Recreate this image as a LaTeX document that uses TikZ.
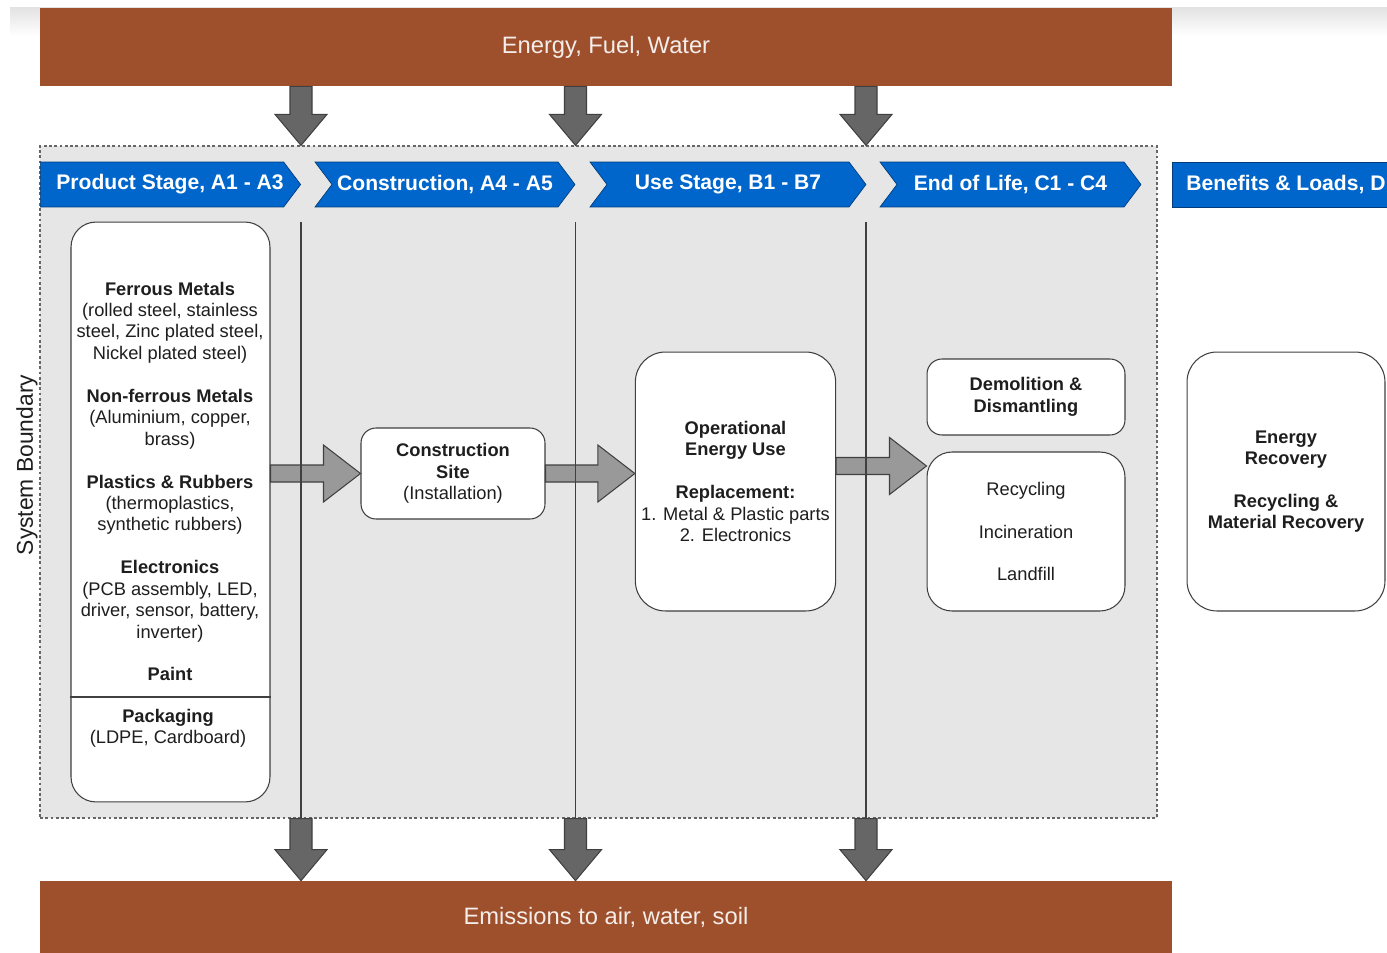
\documentclass[tikz,border=0pt]{standalone}
\usepackage{fontspec}
\setmainfont{Liberation Sans}
\usetikzlibrary{shapes.symbols, calc}

\definecolor{barbrown}{HTML}{9E502D}
\definecolor{stageblue}{HTML}{0066CC}
\definecolor{boundfill}{HTML}{E6E6E6}
\definecolor{fatgray}{HTML}{999999}
\definecolor{dropgray}{HTML}{666666}
\definecolor{linegray}{HTML}{404040}
\definecolor{txtdark}{HTML}{1E1E1E}

\tikzstyle{bar} = [rectangle, fill=barbrown, text=white!90!barbrown, minimum width=22.64cm, font=\fontsize{13.5}{16}\selectfont]
\tikzstyle{stage} = [signal, signal to=east, signal pointer angle=106, fill=stageblue, draw=stageblue!60!black, text=white, minimum height=0.9cm, inner sep=0pt, font=\fontsize{12}{14}\selectfont\bfseries]
\tikzstyle{box} = [rectangle, draw=linegray, fill=white, line width=0.6pt, align=center, text=txtdark, font=\fontsize{10.4}{12.2}\selectfont]
\tikzstyle{boxtext} = [align=center, text=txtdark, font=\fontsize{10.4}{12.2}\selectfont]
\tikzstyle{divider} = [linegray, line width=0.6pt]

% horizontal fat arrow: tail point, tip point
\newcommand{\fatarrow}[2]{%
  \draw[linegray, fill=fatgray, line width=0.6pt] ($(#1)+(0,-8.5)$) -- ($(#2)+(-37,-8.5)$) -- ($(#2)+(-37,-28.5)$) -- (#2)
    -- ($(#2)+(-37,28.5)$) -- ($(#2)+(-37,8.5)$) -- ($(#1)+(0,8.5)$) -- cycle;}
% vertical down arrow: top point, tip point
\newcommand{\droparrow}[2]{%
  \draw[linegray, fill=dropgray, line width=0.6pt] ($(#1)+(-11,0)$) -- ($(#2)+(-11,-31)$) -- ($(#2)+(-26,-31)$) -- (#2)
    -- ($(#2)+(26,-31)$) -- ($(#2)+(11,-31)$) -- ($(#1)+(11,0)$) -- cycle;}

\begin{document}
\begin{tikzpicture}[x=0.02cm, y=-0.02cm]
    \useasboundingbox (0,0) rectangle (1387,953);
    \shade[top color=gray!22, bottom color=white] (10,8) rectangle (1387,36);

    % inputs and outputs
    \node (topbar) [bar, minimum height=1.56cm] at (606,47) {\raisebox{-1.2pt}{Energy, Fuel, Water}};
    \node (botbar) [bar, minimum height=1.44cm] at (606,917) {\raisebox{-2pt}{Emissions to air, water, soil}};

    % system boundary
    \node (sysb) [rectangle, fill=boundfill, draw=gray!80!black, line width=0.8pt, dash pattern=on 1.6pt off 1.4pt, minimum width=22.34cm, minimum height=13.44cm] at (598.5,482) {};
    \node (sysname) [rotate=90, text=txtdark, font=\fontsize{13}{15}\selectfont] at (27,465) {System Boundary};

    % stages
    \node (prod) [stage, minimum width=5.2cm] at (162,184.5) {\hspace*{0.32cm}Product Stage, A1 - A3};
    \node (cons) [stage, signal from=west, minimum width=5.2cm] at (445,184.5) {Construction, A4 - A5};
    \node (use) [stage, signal from=west, minimum width=5.52cm] at (728,184.5) {Use Stage, B1 - B7};
    \node (eol) [stage, signal from=west, minimum width=5.22cm] at (1010.5,184.5) {End of Life, C1 - C4};
    \node (ben) [rectangle, fill=stageblue, draw=stageblue!60!black, text=white, minimum height=0.9cm, inner xsep=0.28cm, anchor=west, font=\fontsize{12}{14}\selectfont\bfseries] at (1172,184.5) {Benefits \& Loads, D};

    % boxes
    \node (mat) [box, rounded corners=0.5cm, minimum width=3.98cm, minimum height=11.6cm] at (170.5,512) {};
    \node (mattxt) [boxtext] at (170,481.5) {\textbf{Ferrous Metals}\\(rolled steel, stainless\\steel, Zinc plated steel,\\Nickel plated steel)\\[12.2pt]
        \textbf{Non-ferrous Metals}\\(Aluminium, copper,\\brass)\\[12.2pt]
        \textbf{Plastics \& Rubbers}\\(thermoplastics,\\synthetic rubbers)\\[12.2pt]
        \textbf{Electronics}\\(PCB assembly, LED,\\driver, sensor, battery,\\inverter)\\[12.2pt]
        \textbf{Paint}};
    \draw [divider] (mat.west |- 0,697) -- (mat.east |- 0,697);
    \node (pack) [boxtext] at (168,728) {\textbf{Packaging}\\(LDPE, Cardboard)};

    \node (cs) [box, rounded corners=0.3cm, minimum width=3.68cm, minimum height=1.82cm] at (453,473.5) {\textbf{Construction}\\\textbf{Site}\\(Installation)};
    \node (op) [box, rounded corners=0.6cm, minimum width=3.98cm, minimum height=5.18cm] at (735.5,481.5) {\textbf{Operational}\\\textbf{Energy Use}\\[12.2pt]\textbf{Replacement:}\\1. Metal \& Plastic parts\\2. Electronics};
    \node (demo) [box, rounded corners=0.3cm, minimum width=3.96cm, minimum height=1.52cm] at (1026,397) {\textbf{Demolition \&}\\\textbf{Dismantling}};
    \node (rec) [box, rounded corners=0.5cm, minimum width=3.96cm, minimum height=3.18cm] at (1026,531.5) {Recycling\\[12.2pt]Incineration\\[12.2pt]Landfill};
    \node (rcv) [box, rounded corners=0.6cm, minimum width=3.96cm, minimum height=5.18cm] at (1286,481.5) {\textbf{Energy}\\\textbf{Recovery}\\[12.2pt]\textbf{Recycling \&}\\\textbf{Material Recovery}};

    % flows between stages
    \coordinate (a3s) at ($(op.east)+(0,-15.5)$);
    \fatarrow{mat.east |- cs.west}{cs.west}
    \fatarrow{cs.east}{op.west |- cs.east}
    \fatarrow{a3s}{rec.west |- a3s}

    % stage dividers and in/out arrows
    \foreach \n/\x in {1/301, 2/575.5, 3/866} {
        \coordinate (v\n) at (\x,222);
        \coordinate (in\n) at (topbar.south -| v\n);
        \coordinate (inend\n) at (sysb.north -| v\n);
        \coordinate (out\n) at (sysb.south -| v\n);
        \coordinate (outend\n) at (botbar.north -| v\n);
        \draw [linegray, line width=0.6pt] (v\n) -- (out\n);
        \droparrow{in\n}{inend\n}
        \droparrow{out\n}{outend\n}
    }
\end{tikzpicture}
\end{document}
